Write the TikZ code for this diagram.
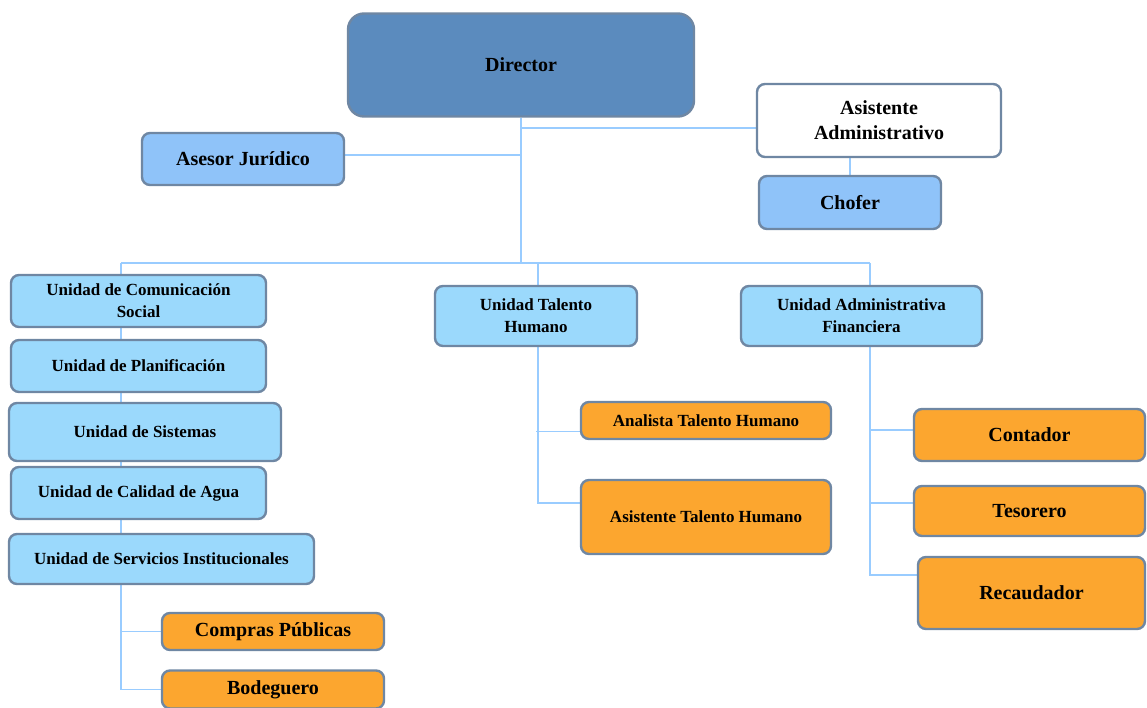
\documentclass[tikz,border=0pt]{standalone}
\usepackage{fontspec}
\setmainfont{Liberation Serif}
\usetikzlibrary{backgrounds}
\definecolor{dirfill}{HTML}{5B8BBE}
\definecolor{boxline}{HTML}{6F87A3}
\definecolor{linkblue}{HTML}{99CCFF}
\definecolor{skyfill}{HTML}{8FC3F9}
\definecolor{unitfill}{HTML}{9BD9FC}
\definecolor{orangefill}{HTML}{FCA62F}
\tikzset{
  box/.style={draw=boxline, line width=2.4pt, rounded corners=8pt, align=center,
    inner sep=2pt, font=\fontsize{20}{25}\selectfont\bfseries},
  small/.style={font=\fontsize{17}{22}\selectfont\bfseries},
  head/.style={box, fill=dirfill, rounded corners=16pt},
  sky/.style={box, fill=skyfill},
  unit/.style={box, small, fill=unitfill},
  staff/.style={box, fill=orangefill},
  link/.style={draw=linkblue, line width=1.4pt},
}
\begin{document}
\begin{tikzpicture}[x=1pt,y=-1pt]
  \useasboundingbox (0,0) rectangle (1147,708);
  \node[head, minimum width=346pt, minimum height=103pt] (dir) at (521,65) {Director};
  \node[box, fill=white, minimum width=244pt, minimum height=73pt] (asist) at (879,120.5) {Asistente\\Administrativo};
  \node[sky, minimum width=202pt, minimum height=52pt] (asesor) at (243,159) {Asesor Jurídico};
  \node[sky, minimum width=182pt, minimum height=53pt] (chofer) at (850,202.5) {Chofer};
  \node[unit, minimum width=255pt, minimum height=52pt] (ucom) at (138.5,301) {Unidad de Comunicación\\Social};
  \node[unit, minimum width=255pt, minimum height=52pt] (uplan) at (138.5,366) {Unidad de Planificación};
  \node[unit, minimum width=272pt, minimum height=58pt] (usis) at (145,432) {Unidad de Sistemas};
  \node[unit, minimum width=255pt, minimum height=52pt] (ucal) at (138.5,493) {Unidad de Calidad de Agua};
  \node[unit, minimum width=305pt, minimum height=50pt] (userv) at (161.5,559) {Unidad de Servicios Institucionales};
  \node[staff, minimum width=222pt, minimum height=37pt] (compras) at (273,631.5) {Compras Públicas};
  \node[staff, minimum width=222pt, minimum height=38pt] (bodeg) at (273,689.5) {Bodeguero};
  \node[unit, minimum width=202pt, minimum height=60pt] (th) at (536,316) {Unidad Talento\\Humano};
  \node[unit, minimum width=241pt, minimum height=60pt] (af) at (861.5,316) {Unidad Administrativa\\Financiera};
  \node[staff, small, minimum width=250pt, minimum height=37pt] (analista) at (706,420.5) {Analista Talento Humano};
  \node[staff, small, minimum width=250pt, minimum height=74pt] (asth) at (706,517) {Asistente Talento Humano};
  \node[staff, minimum width=231pt, minimum height=52pt] (cont) at (1029.5,435) {Contador};
  \node[staff, minimum width=231pt, minimum height=50pt] (tes) at (1029.5,511) {Tesorero};
  \node[staff, minimum width=227pt, minimum height=72pt] (recaud) at (1031.5,593) {Recaudador};
  \coordinate (aa) at (521,128);
  \coordinate (ase) at (521,155);
  \coordinate (barL) at (121,263);
  \coordinate (barR) at (870,263);
  \begin{scope}[on background layer]
    \draw[link] (dir.south) -- (dir.south |- barL);
    \draw[link] (aa) -- (aa -| asist.west);
    \draw[link] (ase) -- (ase -| asesor.east);
    \draw[link] (chofer.north) -- (chofer.north |- asist.south);
    \draw[link] (barL) -- (barR);
    \draw[link] (barL) |- (bodeg.west);
    \draw[link] (compras.west) -- (compras.west -| barL);
    \draw[link] ([xshift=2pt]th.north) -- ([xshift=2pt]th.north |- barL);
    \draw[link] ([xshift=2pt]th.south) |- ([yshift=14pt]asth.west);
    \draw[link] ([yshift=-11pt]analista.west) -- ([yshift=-11pt]analista.west -| th.south);
    \draw[link] (barR) -- (barR |- af.north);
    \draw[link] (barR |- af.south) |- ([yshift=18pt]recaud.west);
    \draw[link] ([yshift=5pt]cont.west) -- ([yshift=5pt]cont.west -| barR);
    \draw[link] ([yshift=8pt]tes.west) -- ([yshift=8pt]tes.west -| barR);
  \end{scope}
\end{tikzpicture}
\end{document}
